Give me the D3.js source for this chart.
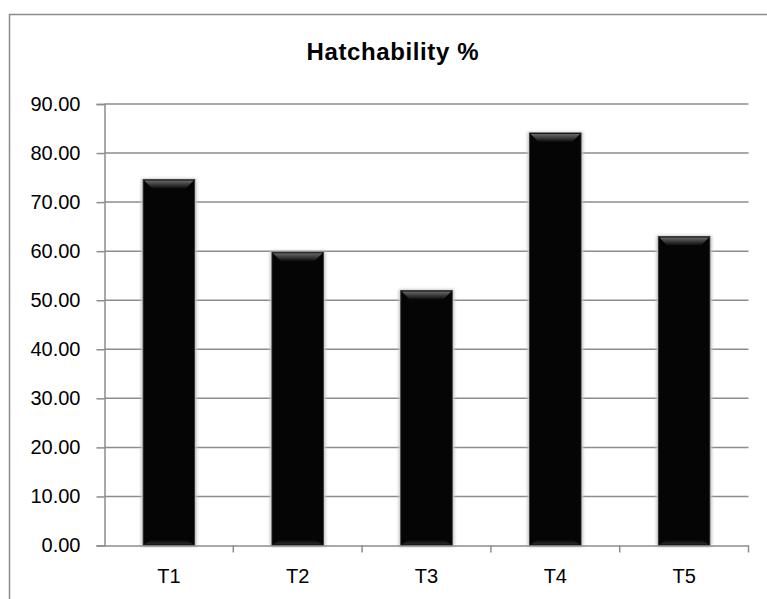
<!DOCTYPE html>
<html>
<head>
<meta charset="utf-8">
<script src="https://cdn.jsdelivr.net/npm/d3@7"></script>
<style>
    body { margin: 0; background: #fff; }
    svg { display: block; }
</style>
</head>
<body>
<svg id="chart" width="767" height="599"></svg>
<script>
// chart data
var categories = ['T1', 'T2', 'T3', 'T4', 'T5'];
var hatchability = [74.6, 59.8, 52.0, 84.1, 63.0];
var yTicks = [0, 10, 20, 30, 40, 50, 60, 70, 80, 90];
var graphHeader = 'Hatchability %';

var fontFamily = '"Liberation Sans", Arial, sans-serif';

var svg = d3.select('#chart');
var margin = { top: 104, right: 18.5, bottom: 53.5, left: 104.5 },
    width = 767 - margin.left - margin.right,
    height = 599 - margin.top - margin.bottom;

var defs = svg.append('defs');
var topGrad = defs.append('linearGradient')
    .attr('id', 'bevelTop')
    .attr('x1', 0).attr('y1', 0).attr('x2', 0).attr('y2', 1);
topGrad.append('stop').attr('offset', '0%').attr('stop-color', '#6a6a6a');
topGrad.append('stop').attr('offset', '100%').attr('stop-color', '#0a0a0a');
var sideGrad = defs.append('linearGradient')
    .attr('id', 'bevelBottom')
    .attr('x1', 0).attr('y1', 0).attr('x2', 0).attr('y2', 1);
sideGrad.append('stop').attr('offset', '0%').attr('stop-color', '#050505');
sideGrad.append('stop').attr('offset', '100%').attr('stop-color', '#2a2a2a');
var blur = defs.append('filter').attr('id', 'shadow')
    .attr('x', '-20%').attr('y', '-20%').attr('width', '140%').attr('height', '140%');
blur.append('feGaussianBlur').attr('stdDeviation', 1.5);

// outer frame
svg.append('rect')
    .attr('x', 9.5).attr('y', 14.5)
    .attr('width', 780).attr('height', 600)
    .attr('fill', 'none')
    .attr('stroke', '#8c8c8c')
    .attr('stroke-width', 1.5);

var chart = svg.append('g')
    .attr('transform', 'translate(' + margin.left + ',' + margin.top + ')');

var x = d3.scaleBand()
    .domain(categories)
    .range([0, width])
    .paddingInner(0.6)
    .paddingOuter(0.3);

var xTicks = d3.scaleBand().domain(categories).range([0, width]);

var y = d3.scaleLinear()
    .domain([0, 90])
    .range([height, 0]);

// gridlines
chart.append('g')
    .selectAll('line')
    .data(yTicks.slice(1))
    .enter()
    .append('line')
    .attr('x1', 0)
    .attr('x2', width)
    .attr('y1', d => y(d))
    .attr('y2', d => y(d))
    .attr('stroke', '#8c8c8c')
    .attr('stroke-width', 1.5);

// y axis
var yAxis = d3.axisLeft(y)
    .tickValues(yTicks)
    .tickSize(8)
    .tickPadding(16)
    .tickFormat(d3.format('.2f'));
var yG = chart.append('g').attr('class', 'y axis').call(yAxis);
yG.attr('font-family', fontFamily).attr('font-size', 20);
yG.select('.domain').attr('stroke', '#8c8c8c').attr('stroke-width', 1.5);
yG.selectAll('.tick line').attr('stroke', '#8c8c8c').attr('stroke-width', 1.5);
yG.selectAll('text').attr('fill', '#000');

// bars
var bars = chart.append('g')
    .selectAll('g')
    .data(hatchability)
    .enter()
    .append('g')
    .attr('transform', (d, i) => 'translate(' + x(categories[i]) + ',0)');

var bw = x.bandwidth();
var bev = 9;

bars.append('rect')
    .attr('x', -2).attr('y', d => y(d) - 1)
    .attr('width', bw + 4)
    .attr('height', d => height - y(d) + 2)
    .attr('fill', '#c4c4c4')
    .attr('filter', 'url(#shadow)');

bars.append('rect')
    .attr('x', 0).attr('y', d => y(d))
    .attr('width', bw)
    .attr('height', d => height - y(d))
    .attr('fill', '#050505')
    .attr('stroke', '#333')
    .attr('stroke-width', 0.8);

// top bevel
bars.append('path')
    .attr('d', d => {
        var t = y(d);
        return 'M1,' + (t + 1) + 'L' + (bw - 1) + ',' + (t + 1) +
            'L' + (bw - bev) + ',' + (t + bev) + 'L' + bev + ',' + (t + bev) + 'Z';
    })
    .attr('fill', 'url(#bevelTop)');

// bottom bevel
bars.append('path')
    .attr('d', () => {
        var b = height;
        return 'M1,' + (b - 1) + 'L' + (bw - 1) + ',' + (b - 1) +
            'L' + (bw - bev) + ',' + (b - 6) + 'L' + bev + ',' + (b - 6) + 'Z';
    })
    .attr('fill', 'url(#bevelBottom)');

// x axis
var xAxis = d3.axisBottom(xTicks).tickSize(0).tickPadding(23);
var xG = chart.append('g')
    .attr('class', 'x axis')
    .attr('transform', 'translate(0,' + height + ')')
    .call(xAxis);
xG.attr('font-family', fontFamily).attr('font-size', 20);
xG.select('.domain').attr('stroke', '#8c8c8c').attr('stroke-width', 1.5);
xG.selectAll('text').attr('fill', '#000');

// category separators
xG.append('g')
    .selectAll('line')
    .data(categories)
    .enter()
    .append('line')
    .attr('x1', d => xTicks(d) + xTicks.bandwidth())
    .attr('x2', d => xTicks(d) + xTicks.bandwidth())
    .attr('y1', 0)
    .attr('y2', 7)
    .attr('stroke', '#8c8c8c')
    .attr('stroke-width', 1.5);

// title
svg.append('text')
    .attr('x', 392.5)
    .attr('y', 59.5)
    .attr('text-anchor', 'middle')
    .attr('font-family', fontFamily)
    .attr('font-weight', 'bold')
    .attr('font-size', 24)
    .attr('textLength', 172)
    .attr('lengthAdjust', 'spacing')
    .attr('fill', '#000')
    .text(graphHeader);
</script>
</body>
</html>
